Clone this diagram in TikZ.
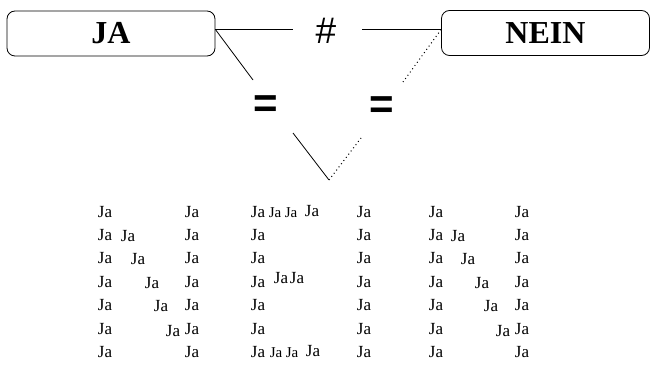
\documentclass[tikz,border=0pt]{standalone}
\usepackage{fontspec}
\setmainfont{Liberation Serif}
\setsansfont{Liberation Sans}
\begin{document}
\begin{tikzpicture}[x=1pt, y=-1pt]
\useasboundingbox (0,0) rectangle (650,366);

\tikzset{
  wordbox/.style={draw, line width=0.8pt, rounded corners=8pt, minimum width=208pt, minimum height=45pt, font=\fontsize{32}{32}\selectfont\bfseries},
  sign/.style={inner sep=0pt, font=\fontsize{37}{37}\selectfont\sffamily},
  eqsign/.style={inner sep=0pt, font=\fontsize{42}{42}\selectfont\sffamily\bfseries},
  link/.style={line width=0.8pt},
  dotlink/.style={line width=1pt, dash pattern=on 1pt off 3pt},
  ja/.style={inner sep=0pt, font=\fontsize{17}{17}\selectfont},
  jasmall/.style={inner sep=0pt, font=\fontsize{15}{15}\selectfont}
}

% Top row: the two words
\node[wordbox] (ja) at (111,33.5) {JA};
\node[wordbox] (nein) at (545.5,33) {NEIN};
\node[sign] (hash) at (326,31) {\#};
\node[eqsign] (eqa) at (266,107) {=};
\node[eqsign] (eqb) at (382,108) {=};

% free ends of the connectors
\coordinate (japort) at ([yshift=4pt]ja.east);
\coordinate (neinport) at ([yshift=3.5pt]nein.west);
\coordinate (hashl) at (293,29.5);
\coordinate (hashr) at (362,29.5);
\coordinate (jadown) at (253,80);
\coordinate (neindown) at (403,82);
\coordinate (vl) at (293,133);
\coordinate (vb) at (329,180);
\coordinate (vr) at (361,138);

\draw[link] (japort) -- (hashl);
\draw[link] (hashr) -- (neinport);
\draw[link] (japort) -- (jadown);
\draw[dotlink] (neinport) -- (neindown);
\draw[link] (vl) -- (vb);
\draw[dotlink] (vb) -- (vr);

% Bottom: NEIN spelled with Ja
\foreach \r/\y in {1/212,2/235,3/258,4/282,5/305,6/329,7/352} {
  \node[ja] (na\r) at (105,\y) {Ja};
  \node[ja] (nb\r) at (192,\y) {Ja};
  \node[ja] (ea\r) at (258,\y) {Ja};
  \node[ja] (ia\r) at (364,\y) {Ja};
  \node[ja] (ma\r) at (436,\y) {Ja};
  \node[ja] (mb\r) at (522,\y) {Ja};
}
\foreach \r/\x/\y in {2/128/236,3/138/259,4/152/283,5/161/306,6/173/331} {
  \node[ja] (nd\r) at (\x,\y) {Ja};
}
\foreach \r/\x/\y in {2/458/236,3/468/259,4/482/283,5/491/306,6/503/331} {
  \node[ja] (md\r) at (\x,\y) {Ja};
}
% E
\node[jasmall] (et1) at (275,213) {Ja};
\node[jasmall] (et2) at (291,213) {Ja};
\node[ja] (et3) at (312,211) {Ja};
\node[ja] (em1) at (281,278) {Ja};
\node[ja] (em2) at (297,278) {Ja};
\node[jasmall] (eb1) at (276,353) {Ja};
\node[jasmall] (eb2) at (292,353) {Ja};
\node[ja] (eb3) at (313,351) {Ja};

\end{tikzpicture}
\end{document}
